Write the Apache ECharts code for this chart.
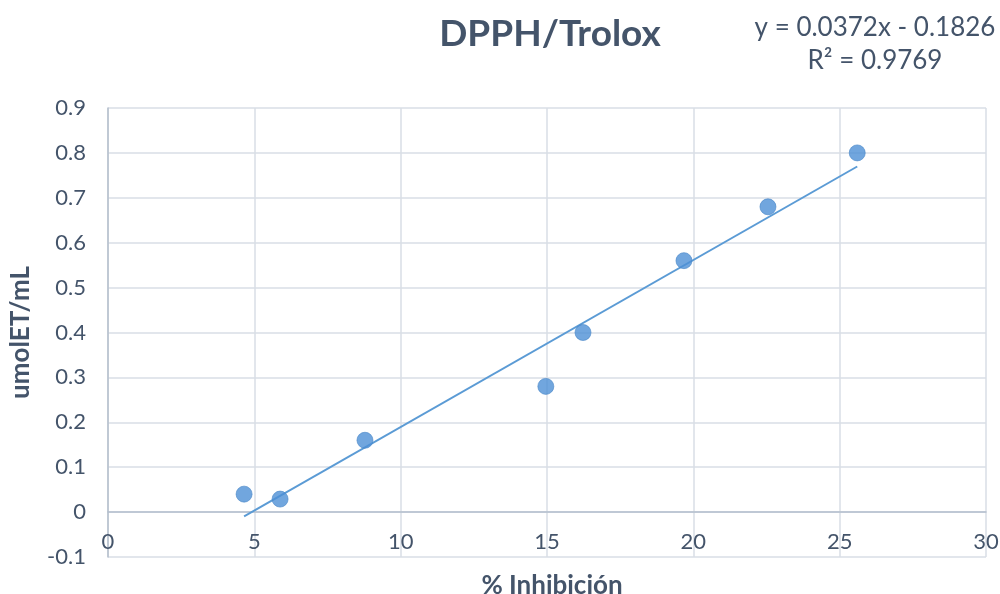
<!DOCTYPE html>
<html>
<head>
<meta charset="utf-8">
<script src="https://cdn.jsdelivr.net/npm/echarts@6/dist/echarts.min.js"></script>
<style>
  html, body { margin: 0; padding: 0; background: #fff; }
  #chart { width: 1000px; height: 594px; }
</style>
</head>
<body>
<div id="chart"></div>
<script>
// data
const inhibition = [4.65, 5.88, 8.78, 14.96, 16.23, 19.68, 22.55, 25.6];
const umolET = [0.04, 0.029, 0.16, 0.28, 0.40, 0.56, 0.68, 0.80];
const slope = 0.0372;
const intercept = -0.1826;
const r2 = 0.9769;

const points = inhibition.map((x, i) => [x, umolET[i]]);
const xMin = Math.min(...inhibition);
const xMax = Math.max(...inhibition);
const trend = [xMin, xMax].map(x => [x, slope * x + intercept]);

const textColor = '#44546a';
const font = 'Lato, "Open Sans", sans-serif';

const chart = echarts.init(document.getElementById('chart'));

const option = {
    animation: false,
    textStyle: { fontFamily: font },
    title: [
        {
            text: 'DPPH/Trolox',
            left: 545, top: 11, textAlign: 'center',
            textStyle: { fontSize: 37, fontWeight: 'bold', color: textColor, fontFamily: font }
        },
        {
            text: 'y = 0.0372x - 0.1826\nR² = ' + r2,
            left: 870, top: 6, textAlign: 'center',
            textStyle: { fontSize: 26, fontWeight: 'normal', color: textColor, fontFamily: font, lineHeight: 33, align: 'center' }
        },
        {
            text: '% Inhibición',
            left: 547, top: 568, textAlign: 'center',
            textStyle: { fontSize: 26, fontWeight: 'bold', color: textColor, fontFamily: font }
        }
    ],
    grid: { left: 108, right: 14, top: 108, bottom: 37, outerBoundsMode: 'none', containLabel: false },
    xAxis: {
        type: 'value',
        min: 0, max: 30, interval: 5,
        axisLine: { onZero: true, lineStyle: { color: '#b4bfcd', width: 1.5 } },
        axisTick: { show: false },
        axisLabel: { fontSize: 22, color: textColor, margin: -26, fontFamily: font },
        splitLine: { lineStyle: { color: '#d9dee6', width: 1.5 } }
    },
    yAxis: {
        type: 'value',
        min: -0.1, max: 0.9, interval: 0.1,
        name: 'umolET/mL',
        nameLocation: 'middle',
        nameGap: 74,
        nameTextStyle: { fontSize: 26, fontWeight: 'bold', color: textColor, fontFamily: font },
        axisLine: { show: true, lineStyle: { color: '#b4bfcd', width: 1.5 } },
        axisTick: { show: false },
        axisLabel: {
            fontSize: 22, color: textColor, margin: 22, fontFamily: font,
            formatter: v => String(Math.round(v * 10) / 10)
        },
        splitLine: { lineStyle: { color: '#d9dee6', width: 1.5 } }
    },
    series: [
        {
            type: 'line',
            data: trend,
            showSymbol: false,
            lineStyle: { color: '#5b9bd5', width: 2 },
            z: 2
        },
        {
            type: 'scatter',
            data: points,
            symbolSize: 16,
            itemStyle: { color: '#4d90d6', borderColor: '#4a88c8', borderWidth: 0.8 },
            z: 3
        }
    ]
};

chart.setOption(option);
</script>
</body>
</html>
